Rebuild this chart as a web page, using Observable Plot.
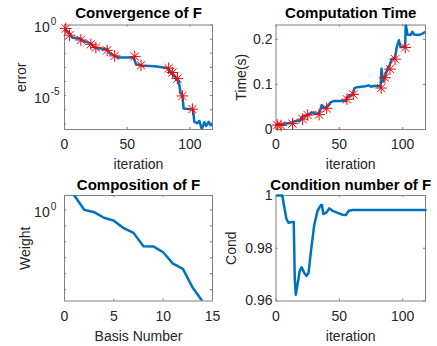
<!DOCTYPE html>
<html><head><meta charset="utf-8">
<script src="https://cdn.jsdelivr.net/npm/d3@7"></script>
<script src="https://cdn.jsdelivr.net/npm/@observablehq/plot@0.6"></script>
<style>
body{margin:0;background:#fff;}
#chart{position:relative;width:437px;height:346px;overflow:hidden;background:#fff;}
#chart svg{position:absolute;left:0;top:0;}
</style></head><body><div id="chart"></div>
<script>
// ---------- data ----------
const titles = ["Convergence of F", "Computation Time", "Composition of F", "Condition number of F"];
const xLabels = ["iteration", "iteration", "Basis Number", "iteration"];
const yLabels = ["error", "Time(s)", "Weight", "Cond"];

const iterTicks = [0, 50, 100];
const basisTicks = [0, 5, 10, 15];
const errorTickExps = [0, -1, -2, -3, -4, -5, -6, -7];
const errorLabelExps = [0, -5];
const timeTicks = [0, 0.1, 0.2];
const timeTickLabels = ["0", "0.1", "0.2"];
const weightTickExps = [0, -1, -2, -3, -4, -5];
const weightLabelExps = [0];
const condTicks = [0.96, 0.98, 1];
const condTickLabels = ["0.96", "0.98", "1"];

// selected iterations (red asterisks)
const starIter  = [1, 4, 13, 21, 25, 34, 40, 56, 61, 83, 86, 90, 94, 102];
const starError = [5.6e-1, 1.9e-1, 8.7e-2, 4.3e-2, 2.5e-2, 1.6e-2, 6.5e-3, 5.9e-3, 1.4e-3, 8.7e-4, 4.3e-4, 1.6e-4, 9.5e-6, 1.1e-6];
const starTime  = [0.010, 0.009, 0.013, 0.023, 0.032, 0.033, 0.047, 0.067, 0.078, 0.092, 0.115, 0.134, 0.156, 0.182];

// convergence error curve
const errorIter  = [0, 4.5, 6, 12.5, 14, 20.5, 23, 26, 34, 36, 40, 43, 55, 57, 62, 72, 82, 84, 87, 89, 91, 92.5, 94, 95, 100, 102.5, 103.5, 105.5, 107.5, 109.5, 111.5, 113, 115, 116.5, 118];
const errorValue = [5.2e-1, 2.3e-1, 1.3e-1, 1.1e-1, 7.8e-2, 5.2e-2, 3.0e-2, 2.3e-2, 2.0e-2, 1.0e-2, 6.6e-3, 5.0e-3, 5.0e-3, 1.7e-3, 1.3e-3, 1.2e-3, 8.9e-4, 4.9e-4, 2.8e-4, 1.5e-4, 1.1e-4, 1.7e-5, 9.8e-6, 1.2e-6, 1.1e-6, 1.1e-6, 1.4e-7, 1.1e-7, 1.6e-7, 4.2e-8, 1.3e-7, 7.2e-8, 1.4e-7, 7.9e-8, 1.1e-7];

// computation time curve
const timeIter  = [0, 4.5, 6, 12.5, 14, 19, 20.5, 24.5, 27, 29.5, 31, 33.5, 35, 36, 37.5, 40, 43, 45.5, 55, 56, 60.5, 62, 64, 70.5, 73, 75, 78, 81, 82.5, 83.3, 84.4, 86, 88, 89.7, 91.3, 94, 95.3, 97, 98.4, 101.9, 102.4, 103.7, 106.3, 107.6, 109, 113, 115.6, 118];
const timeValue = [0.011, 0.011, 0.013, 0.015, 0.018, 0.020, 0.028, 0.032, 0.035, 0.038, 0.035, 0.035, 0.043, 0.054, 0.047, 0.050, 0.060, 0.063, 0.063, 0.072, 0.078, 0.092, 0.094, 0.096, 0.098, 0.095, 0.097, 0.096, 0.096, 0.135, 0.106, 0.117, 0.135, 0.143, 0.156, 0.159, 0.183, 0.198, 0.183, 0.183, 0.235, 0.211, 0.210, 0.217, 0.211, 0.210, 0.213, 0.217];

// composition weights
const basisNumber = [1, 2, 3, 4, 5, 6, 7, 8, 9, 10, 11, 12, 13, 14];
const weight = [7.9, 1.0, 0.71, 0.32, 0.21, 0.071, 0.036, 5.2e-3, 5.1e-3, 2.2e-3, 4.3e-4, 2.0e-4, 1.3e-5, 1.8e-6];

// condition number
const condIter  = [1, 5, 6.3, 8.2, 9.8, 13, 14, 14.8, 15.6, 16.9, 18.8, 20.3, 22.2, 24.1, 25.7, 27.5, 30.1, 32.8, 35.4, 36.3, 37.3, 39.4, 42, 44.7, 48.7, 52.6, 55.2, 57.3, 60.5, 118];
const condValue = [1.0, 1.0, 0.9962, 0.9912, 0.9897, 0.990, 0.990, 0.9685, 0.9624, 0.966, 0.9716, 0.9728, 0.9707, 0.9695, 0.9707, 0.9785, 0.9886, 0.9942, 0.9964, 0.9964, 0.993, 0.9934, 0.9951, 0.9942, 0.9934, 0.9927, 0.9926, 0.9942, 0.9945, 0.9945];

// ---------- drawing ----------
const W = 437, H = 346;
const FONT = '"Liberation Sans", Arial, Helvetica, sans-serif';
const INK = "#262626", BOX = "#808080", BLUE = "#0072BD", RED = "#FF0000";
const TICK = 2;

const zip = (xs, ys) => xs.map((x, i) => ({x, y: ys[i]}));
const T = {lineAnchor: "middle", fill: INK, fontSize: 14};

function panel(cfg) {
  const f = cfg.frame;
  const fw = f.right - f.left, fh = f.bottom - f.top;
  const marks = [];
  marks.push(Plot.frame({stroke: BOX}));
  // inward ticks on all four sides
  marks.push(Plot.tickX(cfg.xTicks, {x: d => d, stroke: BOX, insetTop: fh - TICK}));
  marks.push(Plot.tickX(cfg.xTicks, {x: d => d, stroke: BOX, insetBottom: fh - TICK}));
  marks.push(Plot.tickY(cfg.yTicks, {y: d => d, stroke: BOX, insetLeft: fw - TICK}));
  marks.push(Plot.tickY(cfg.yTicks, {y: d => d, stroke: BOX, insetRight: fw - TICK}));
  // data
  marks.push(...cfg.data);
  // x tick labels
  marks.push(Plot.text(cfg.xTicks, {...T, x: d => d, frameAnchor: "bottom", textAnchor: "middle", dy: 15.5, text: d => String(d)}));
  // y tick labels
  if (cfg.yTickLabels) {
    marks.push(Plot.text(cfg.yTicks, {...T, y: d => d, frameAnchor: "left", dx: -3.5, textAnchor: "end",
      text: (d, i) => cfg.yTickLabels[i]}));
  }
  if (cfg.logLabels) {
    for (const e of cfg.logLabels) {
      marks.push(Plot.text([10 ** e], {...T, y: d => d, frameAnchor: "left", dx: -14.8, dy: 3, textAnchor: "end", text: () => "10"}));
      marks.push(Plot.text([10 ** e], {...T, y: d => d, frameAnchor: "left", dx: -13.8, dy: -3.5, textAnchor: "start", text: () => String(e), fontSize: 10}));
    }
  }
  // axis labels and title
  marks.push(Plot.text([cfg.xLabel], {...T, frameAnchor: "bottom", textAnchor: "middle", dy: 35.5, text: d => d}));
  marks.push(Plot.text([cfg.yLabel], {...T, frameAnchor: "left", textAnchor: "middle", dx: cfg.yLabelX - f.left, rotate: -90, text: d => d}));
  marks.push(Plot.text([cfg.title], {...T, frameAnchor: "top", textAnchor: "middle", dy: cfg.titleY - f.top, text: d => d, fill: "#000", fontWeight: "bold", fontSize: 15}));

  const svg = Plot.plot({
    width: W, height: H,
    marginLeft: f.left, marginRight: W - f.right, marginTop: f.top, marginBottom: H - f.bottom,
    style: {fontFamily: FONT, fontSize: "14px", background: "transparent", overflow: "visible"},
    x: {domain: cfg.xDomain, axis: null},
    y: {type: cfg.yType || "linear", domain: cfg.yDomain, axis: null},
    marks
  });
  document.getElementById("chart").appendChild(svg);
}

const stars = (xs, ys) => [
  Plot.dot(zip(xs, ys), {x: "x", y: "y", symbol: "plus", r: 3.8, stroke: RED, strokeWidth: 1}),
  Plot.dot(zip(xs, ys), {x: "x", y: "y", symbol: "times", r: 3.8, stroke: RED, strokeWidth: 1})
];

// Panel 1: convergence
panel({
  frame: {left: 64, right: 212, top: 24.5, bottom: 129},
  xDomain: [0, 118], yType: "log", yDomain: [10 ** -7.4, 1],
  xTicks: iterTicks, yTicks: errorTickExps.map(e => 10 ** e), logLabels: errorLabelExps,
  data: [
    Plot.line(zip(errorIter, errorValue), {x: "x", y: "y", stroke: BLUE, strokeWidth: 2.5, clip: true}),
    ...stars(starIter, starError)
  ],
  title: titles[0], titleY: 13, xLabel: xLabels[0], yLabel: yLabels[0], yLabelX: 21.5
});

// Panel 2: computation time
panel({
  frame: {left: 275.5, right: 425, top: 24.5, bottom: 129},
  xDomain: [0, 118], yDomain: [0, 0.232],
  xTicks: iterTicks, yTicks: timeTicks, yTickLabels: timeTickLabels,
  data: [
    Plot.line(zip(timeIter, timeValue), {x: "x", y: "y", stroke: BLUE, strokeWidth: 2.5, clip: true}),
    ...stars(starIter, starTime)
  ],
  title: titles[1], titleY: 13, xLabel: xLabels[1], yLabel: yLabels[1], yLabelX: 241.3
});

// Panel 3: composition
panel({
  frame: {left: 64, right: 212, top: 195, bottom: 300.5},
  xDomain: [0, 15], yType: "log", yDomain: [10 ** -5.71, 7.9],
  xTicks: basisTicks, yTicks: weightTickExps.map(e => 10 ** e), logLabels: weightLabelExps,
  data: [
    Plot.line(zip(basisNumber, weight), {x: "x", y: "y", stroke: BLUE, strokeWidth: 2.5, clip: true})
  ],
  title: titles[2], titleY: 184.3, xLabel: xLabels[2], yLabel: yLabels[2], yLabelX: 25.5
});

// Panel 4: condition number
panel({
  frame: {left: 275.5, right: 425, top: 195, bottom: 300.5},
  xDomain: [0, 118], yDomain: [0.96, 1],
  xTicks: iterTicks, yTicks: condTicks, yTickLabels: condTickLabels,
  data: [
    Plot.line(zip(condIter, condValue), {x: "x", y: "y", stroke: BLUE, strokeWidth: 2.5})
  ],
  title: titles[3], titleY: 184.3, xLabel: xLabels[3], yLabel: yLabels[3], yLabelX: 231.5
});
</script></body></html>
